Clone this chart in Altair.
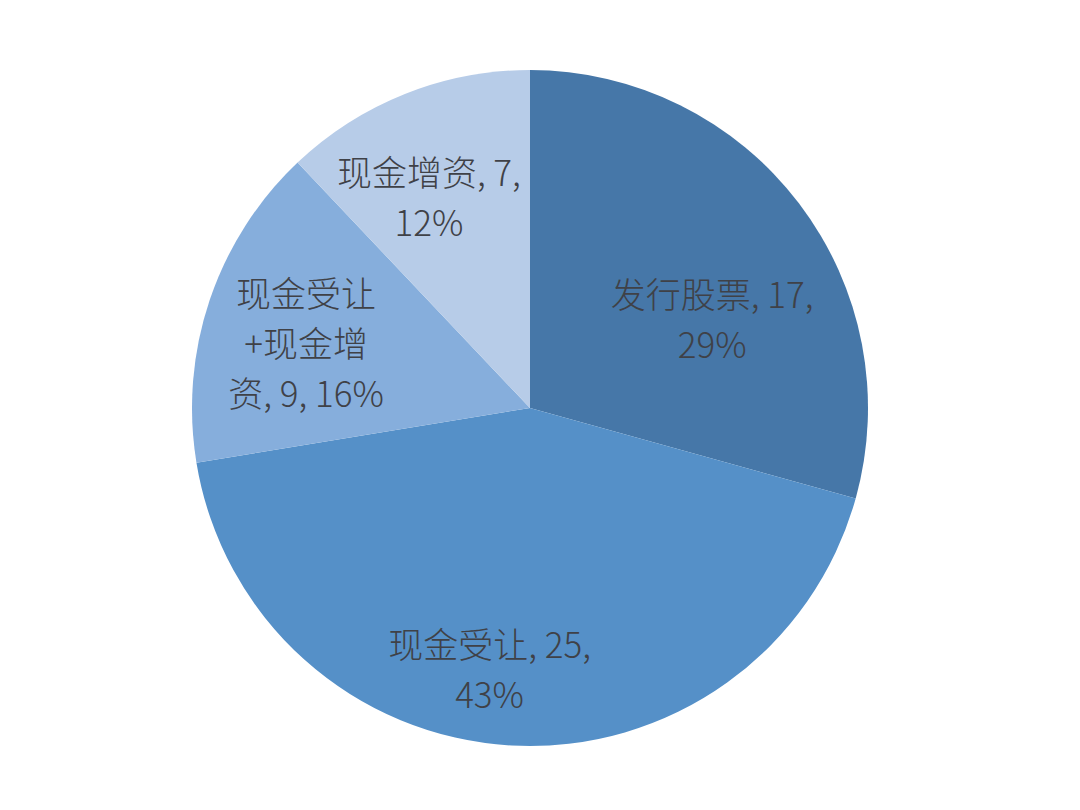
import altair as alt
import pandas as pd

categories = ["发行股票", "现金受让", "现金受让+现金增资", "现金增资"]
values = [17, 25, 9, 7]
# how each label is broken into lines (text only)
label_prefix = [["发行股票, "], ["现金受让, "], ["现金受让", "+现金增", "资, "], ["现金增资, "]]
colors = ["#4677A8", "#5590C8", "#86AEDC", "#B7CCE8"]

total = sum(values)
labels = []
for cat, v, pre in zip(categories, values, label_prefix):
    pct = round(v / total * 100)
    if len(pre) == 1:
        labels.append(f"{pre[0]}{v},\n{pct}%")
    else:
        labels.append("\n".join(pre[:-1]) + f"\n{pre[-1]}{v}, {pct}%")

df = pd.DataFrame({
    "cat": categories,
    "value": values,
    "idx": list(range(len(categories))),
    "label": labels,
})

CX, CY = 522, 400

base = alt.Chart(df).encode(
    theta=alt.Theta("value:Q", stack=True),
    order=alt.Order("idx:Q"),
)

arc = base.mark_arc(outerRadius=338, x=CX, y=CY).encode(
    color=alt.Color("cat:N", scale=alt.Scale(domain=categories, range=colors), legend=None)
)

nudges = [(-1, 28), (-28, 9), (-6, -39), (-16, -19)]
layers = [arc]
for i, (dx, dy) in enumerate(nudges):
    layers.append(
        base.mark_text(
            radius=230, x=CX, y=CY, dx=dx, dy=dy,
            fontSize=35, lineHeight=50, font="Noto Sans CJK SC", fontWeight=300,
            color="#3F4147", align="center", baseline="middle", lineBreak="\n",
        ).encode(
            detail="cat:N",
            text=alt.condition(alt.datum.idx == i, "label:N", alt.value("")),
        )
    )

chart = alt.layer(*layers).properties(
    width=1060, height=780, padding=0, autosize=alt.AutoSizeParams(type="none")
).configure_view(stroke=None)

chart.save("out.html", embed_options={"renderer": "svg", "actions": False})
